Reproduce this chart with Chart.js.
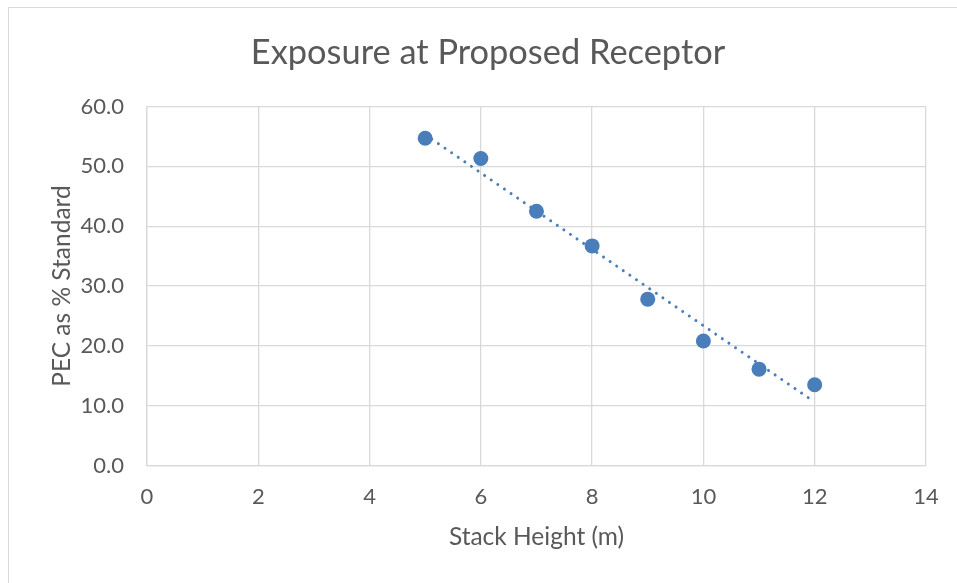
<!DOCTYPE html>
<html>
<head>
<meta charset="utf-8">
<script src="https://cdn.jsdelivr.net/npm/chart.js@4.4.1/dist/chart.umd.min.js"></script>
<style>
    html, body { margin: 0; padding: 0; background: #fff; }
    #wrap { position: relative; width: 957px; height: 583px; overflow: hidden; }
    #frame { position: absolute; left: 8px; top: 7px; width: 1000px; height: 700px; border: 1px solid #d9d9d9; }
    #chart { position: absolute; left: 0; top: 0; }
</style>
</head>
<body>
<div id="wrap">
    <div id="frame"></div>
    <canvas id="chart" width="957" height="583"></canvas>
</div>
<script>
// altezza camino (m) e PEC come % dello standard
const stackHeight = [5, 6, 7, 8, 9, 10, 11, 12];
const pecPercent = [54.7, 51.3, 42.5, 36.7, 27.8, 20.8, 16.1, 13.5];

// linea di tendenza lineare (estremi)
const trendX = [5, 12];
const trendY = [55.3, 10.6];

const xTicks = [0, 2, 4, 6, 8, 10, 12, 14];
const yTicks = [0, 10, 20, 30, 40, 50, 60];

const chartTitle = 'Exposure at Proposed Receptor';

const blue = '#4a7ebb';
const grey = '#595959';
const gridColor = '#d9d9d9';
const fontFamily = 'Lato, "Open Sans", sans-serif';

const points = stackHeight.map((x, i) => ({ x: x, y: pecPercent[i] }));
const trend = trendX.map((x, i) => ({ x: x, y: trendY[i] }));

// titolo disegnato a mano, centrato sul riquadro esterno
const titlePlugin = {
    id: 'titoloGrafico',
    afterDraw(chart) {
        const c = chart.ctx;
        c.save();
        c.fillStyle = grey;
        c.font = '34.4px ' + fontFamily;
        c.textAlign = 'center';
        c.textBaseline = 'alphabetic';
        c.fillText(chartTitle, 488, 64);
        c.restore();
    }
};

const ctx = document.getElementById('chart');
new Chart(ctx, {
    type: 'scatter',
    data: {
        datasets: [
            {
                label: 'PEC',
                data: points,
                backgroundColor: blue,
                borderColor: blue,
                borderWidth: 0,
                pointRadius: 7.5,
                pointHoverRadius: 7.5,
                order: 1
            },
            {
                label: 'Tendenza',
                type: 'line',
                data: trend,
                borderColor: blue,
                borderWidth: 3,
                borderDash: [0.01, 8],
                borderCapStyle: 'round',
                pointRadius: 0,
                fill: false,
                order: 2
            }
        ]
    },
    plugins: [titlePlugin],
    options: {
        responsive: false,
        animation: false,
        layout: { padding: { left: 0, right: 29.5, top: 106.5, bottom: 0 } },
        plugins: {
            legend: { display: false },
            tooltip: { enabled: false },
            title: { display: false }
        },
        scales: {
            x: {
                type: 'linear',
                min: 0,
                max: 14,
                afterBuildTicks: (axis) => { axis.ticks = xTicks.map(v => ({ value: v })); },
                afterFit: (axis) => { axis.height = 117.5; },
                ticks: {
                    color: grey,
                    font: { family: fontFamily, size: 22 },
                    padding: 18.3
                },
                grid: { color: gridColor, lineWidth: 1.3, drawTicks: false },
                border: { color: gridColor, width: 1.3 },
                title: {
                    display: true,
                    text: 'Stack Height (m)',
                    color: grey,
                    font: { family: fontFamily, size: 24.5 },
                    padding: { top: 0, bottom: 31.3 }
                }
            },
            y: {
                type: 'linear',
                min: 0,
                max: 60,
                afterBuildTicks: (axis) => { axis.ticks = yTicks.map(v => ({ value: v })); },
                afterFit: (axis) => { axis.width = 147; },
                ticks: {
                    color: grey,
                    font: { family: fontFamily, size: 22 },
                    padding: 23,
                    callback: (v) => v.toFixed(1)
                },
                grid: { color: gridColor, lineWidth: 1.3, drawTicks: false },
                border: { color: gridColor, width: 1.3 },
                title: {
                    display: true,
                    text: 'PEC as % Standard',
                    color: grey,
                    font: { family: fontFamily, size: 24.5 },
                    padding: { top: 47.3, bottom: 0 }
                }
            }
        }
    }
});
</script>
</body>
</html>
